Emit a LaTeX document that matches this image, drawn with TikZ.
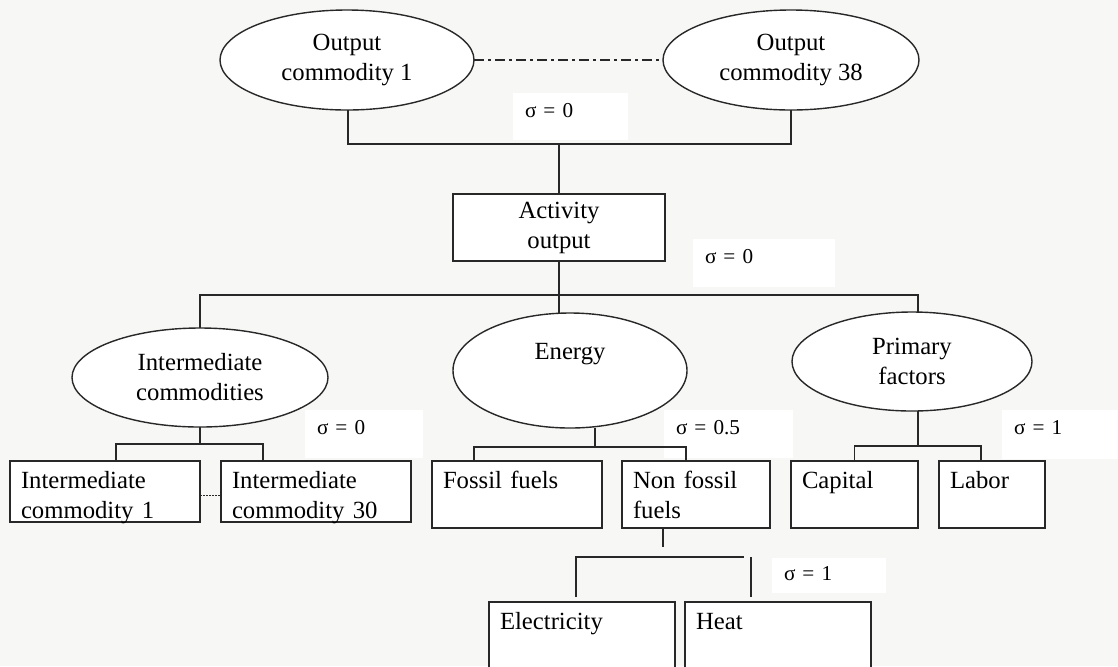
\documentclass[tikz,border=0pt]{standalone}
\usepackage{fontspec}
\setmainfont{Liberation Serif}
\usepackage{tikz}
\usetikzlibrary{positioning, shapes.geometric}
\definecolor{paper}{RGB}{247,247,245}
\definecolor{ink}{RGB}{40,40,40}

\begin{document}
\begin{tikzpicture}[
  x=0.5pt, y=-0.5pt,
  font=\fontsize{12.35}{15}\selectfont,
  oval/.style = {ellipse, draw=ink, fill=white, line width=0.7pt, inner sep=0pt, outer sep=0pt, align=center},
  block/.style = {draw=ink, fill=white, line width=0.7pt, inner sep=0pt, outer sep=0pt, minimum height=33.5pt, minimum width=106pt, align=center},
  leaf/.style 2 args = {draw=ink, fill=white, line width=0.7pt, anchor=north west, inner xsep=5.5pt, inner ysep=0pt, outer sep=0pt,
                        text height=13.5pt, text width=#1, text depth=#2, align=left},
  sigma/.style 2 args = {fill=white, anchor=north west, inner xsep=6pt, inner ysep=0pt, outer sep=0pt, text height=12pt,
                         text width=#1, text depth=#2, align=left, font=\fontsize{10.6}{12.7}\selectfont},
  wire/.style = {draw=ink, line width=0.7pt}
]

  \useasboundingbox (0,0) rectangle (1118,666);
  \fill[paper] (0,0) rectangle (1118,666);

  % Elasticities
  \node[sigma={45.5pt}{11.5pt}] (s_out) at (513,93) {σ = 0};
  \node[sigma={59pt}{12pt}] (s_act) at (693,239) {σ = 0};
  \node[sigma={47pt}{12pt}] (s_inter) at (305,410) {σ = 0};
  \node[sigma={52.5pt}{12pt}] (s_energy) at (664,410) {σ = 0.5};
  \node[sigma={46pt}{12.5pt}] (s_primary) at (1002,410) {σ = 1};
  \node[sigma={45pt}{6.5pt}, text height=11pt] (s_fuel) at (772,558) {σ = 1};

  % Outputs
  \node[oval, minimum width=127pt, minimum height=50pt] (out_1) at (347,60) {Output\\commodity 1};
  \node[oval, minimum width=128pt, minimum height=50pt] (out_38) at (791,60) {Output\\commodity 38};
  \node[block] (activity) at (559,227.5) {Activity\\output};

  % Nests
  \node[oval, minimum width=128pt, minimum height=49.5pt] (inter) at (200,377.5) {Intermediate\\commodities};
  \node[oval, minimum width=117pt, minimum height=57.5pt] (energy) at (570,370.5) {Energy\\\strut};
  \node[oval, minimum width=120pt, minimum height=49.5pt] (primary) at (912,361.5) {Primary\\factors};

  % Inputs
  \node[leaf={84pt}{17pt}] (inter_1) at (10,461) {Intermediate\\commodity 1};
  \node[leaf={84pt}{17pt}, right=10.5pt of inter_1] (inter_30) {Intermediate\\commodity 30};
  \node[leaf={74pt}{20pt}] (fossil) at (432,461) {Fossil fuels};
  \node[leaf={63pt}{20pt}, right=10pt of fossil] (nonfossil) {Non fossil\\fuels};
  \node[leaf={52.5pt}{20pt}] (capital) at (791,461) {Capital};
  \node[leaf={42pt}{20pt}, right=10.5pt of capital] (labor) {Labor};
  \node[leaf={82pt}{31.5pt}] (elec) at (489,602) {Electricity};
  \node[leaf={82pt}{31.5pt}, right=5pt of elec] (heat) {Heat};

  % Junctions
  \coordinate (top_j) at (559,144);
  \coordinate (mid_j) at (559,295);
  \coordinate (inter_j) at (200,444);
  \coordinate (energy_j) at (595,447);
  \coordinate (primary_j) at (918,446);
  \coordinate (fuel_j) at (663,557);

  % Tree
  \draw[wire, dash pattern=on 5pt off 2pt on 1.5pt off 2pt] (out_1) -- (out_38);
  \draw[wire] ([xshift=0.5pt]out_1.south) |- (top_j) -| (out_38.south);
  \draw[wire] (top_j) -- (activity);
  \draw[wire] (activity) -- (mid_j);
  \draw[wire] (inter) |- (mid_j) -| (primary_j |- primary.north);
  \draw[wire] (mid_j) -- (mid_j |- energy.north);

  \draw[wire] (inter) -- (inter_j);
  \draw[wire] ([xshift=5.5pt]inter_1.north) |- (inter_j) -| ([xshift=-26.5pt]inter_30.north);
  \draw[wire, line width=0.5pt, dash pattern=on 0.75pt off 0.75pt] ([yshift=-1.75pt]inter_1.east) -- ([yshift=-1.75pt]inter_30.west);

  \draw[wire] (energy_j |- energy.south) -- (energy_j);
  \draw[wire] ([xshift=-21.5pt]fossil.north) |- (energy_j) -| ([xshift=-5pt]nonfossil.north);

  \draw[wire] (primary_j |- primary.south) -- (primary_j);
  \draw[wire] (capital.north) |- (primary_j) -| ([xshift=-5.5pt]labor.north);

  \draw[wire, shorten >=5pt] (fuel_j |- nonfossil.south) -- (fuel_j);
  \draw[wire, shorten <=2.5pt, shorten >=3.5pt] ([xshift=-3pt]elec.north) |- ([xshift=-13.5pt]heat.north |- fuel_j);
  \draw[wire, shorten <=2.5pt] ([xshift=-13.5pt]heat.north) -- ([xshift=-13.5pt]heat.north |- fuel_j);

\end{tikzpicture}
\end{document}
